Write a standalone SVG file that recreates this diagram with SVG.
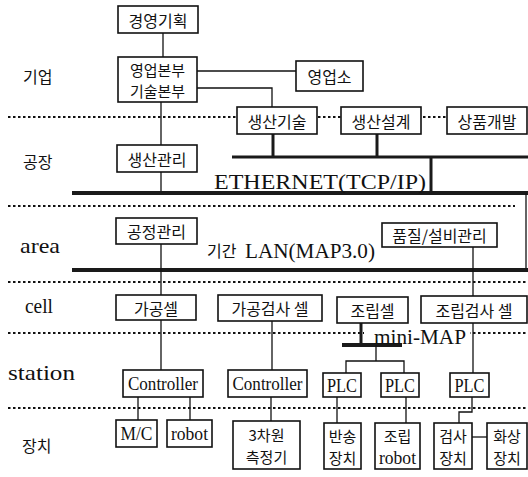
<svg xmlns="http://www.w3.org/2000/svg" width="528" height="477" viewBox="0 0 528 477">
<style>
.box{fill:#fff;stroke:#111;stroke-width:1.6}
.k{font-family:"Noto Sans CJK KR","Noto Sans CJK SC",sans-serif;font-size:16px;text-anchor:middle;dominant-baseline:central;fill:#111}
.k2{font-family:"Noto Sans CJK KR","Noto Sans CJK SC",sans-serif;font-size:15px;text-anchor:middle;dominant-baseline:central;fill:#111}
.kl{font-family:"Noto Sans CJK KR","Noto Sans CJK SC",sans-serif;font-size:16px;dominant-baseline:central;fill:#111}
.s{font-family:"Liberation Serif","DejaVu Serif",serif;fill:#111}
.sc{font-family:"Liberation Serif","DejaVu Serif",serif;font-size:19px;text-anchor:middle;dominant-baseline:central;fill:#111}
.ln{stroke:#111;stroke-width:1.3;fill:none}
.th{stroke:#1a1a1a;stroke-width:3;fill:none}
.bus{stroke:#1a1a1a;stroke-width:4;fill:none}
.dot{stroke:#111;stroke-width:1.8;stroke-dasharray:2.5 2.5;fill:none}
</style>
<g id="separators">
<line class="dot" x1="8" y1="117" x2="528" y2="117"/>
<line class="dot" x1="8" y1="206" x2="515" y2="206"/>
<line class="dot" x1="8" y1="282" x2="528" y2="282"/>
<line class="dot" x1="8" y1="333" x2="528" y2="333"/>
<line class="dot" x1="8" y1="408" x2="528" y2="408"/>
</g>
<g id="level-labels">
<text class="kl" x="23" y="76">기업</text>
<text class="kl" x="23" y="161">공장</text>
<text class="s" x="20" y="253" font-size="22" textLength="40" lengthAdjust="spacingAndGlyphs">area</text>
<text class="s" x="25" y="313" font-size="22" textLength="28" lengthAdjust="spacingAndGlyphs">cell</text>
<text class="s" x="8" y="380" font-size="22" textLength="67" lengthAdjust="spacingAndGlyphs">station</text>
<text class="kl" x="22" y="445">장치</text>
</g>
<g id="connectors">
<line class="ln" x1="163" y1="33" x2="163" y2="57"/>
<line class="ln" x1="197" y1="71" x2="296" y2="71"/>
<polyline class="ln" points="197,88 272,88 272,107"/>
<line class="ln" x1="161" y1="102" x2="161" y2="145"/>
<line class="ln" x1="161" y1="172" x2="161" y2="193"/>
<line class="th" x1="273" y1="134" x2="273" y2="157"/>
<line class="th" x1="377" y1="134" x2="377" y2="157"/>
<line class="th" x1="232" y1="157" x2="528" y2="157"/>
<line class="th" x1="431" y1="157" x2="431" y2="193"/>
<line class="bus" x1="72" y1="193" x2="528" y2="193"/>
<line class="ln" x1="526" y1="193" x2="526" y2="272" stroke-width="2"/>
<line class="bus" x1="72" y1="270" x2="528" y2="270"/>
<line class="ln" x1="161" y1="244" x2="161" y2="295"/>
<line class="ln" x1="473" y1="247" x2="473" y2="296"/>
<line class="ln" x1="161" y1="320" x2="161" y2="370"/>
<line class="ln" x1="272" y1="321" x2="272" y2="370"/>
<line class="th" x1="361" y1="323" x2="361" y2="345"/>
<line class="bus" x1="342" y1="345" x2="402" y2="345"/>
<line class="ln" x1="376" y1="345" x2="376" y2="361" stroke-width="2"/>
<polyline class="ln" points="346,373 346,361 404,361 404,373"/>
<line class="ln" x1="473" y1="323" x2="473" y2="373"/>
<line class="ln" x1="138" y1="397" x2="138" y2="420"/>
<line class="ln" x1="190" y1="397" x2="190" y2="420"/>
<line class="ln" x1="271" y1="397" x2="271" y2="421"/>
<line class="ln" x1="337" y1="397" x2="337" y2="423"/>
<line class="ln" x1="406" y1="397" x2="406" y2="423"/>
<polyline class="ln" points="472,397 472,412 459,412 459,423" stroke-width="2"/>
<line class="ln" x1="472" y1="437" x2="487" y2="437"/>
</g>
<g id="network-labels">
<text class="s" x="214" y="189" font-size="22" textLength="212" lengthAdjust="spacingAndGlyphs">ETHERNET(TCP/IP)</text>
<text class="kl" x="207" y="250">기간</text>
<text class="s" x="245" y="258" font-size="21" textLength="130" lengthAdjust="spacingAndGlyphs">LAN(MAP3.0)</text>
<rect x="364" y="325" width="106" height="17" fill="#fff"/>
<text class="s" x="374" y="344" font-size="21" textLength="92" lengthAdjust="spacingAndGlyphs">mini-MAP</text>
</g>
<g id="n-gyeongyeong"><rect class="box" x="118" y="6" width="80" height="27"/><text class="k" x="158" y="19.5">경영기획</text></g>
<g id="n-bonbu"><rect class="box" x="118" y="57" width="79" height="45"/><text class="k2" x="157.5" y="69">영업본부</text><text class="k2" x="157.5" y="90">기술본부</text></g>
<g id="n-yeongeopso"><rect class="box" x="296" y="61" width="67" height="30"/><text class="k" x="329.5" y="76">영업소</text></g>
<g id="n-saengsangisul"><rect class="box" x="237" y="107" width="80" height="27"/><text class="k" x="277" y="120.5">생산기술</text></g>
<g id="n-saengsanseolgye"><rect class="box" x="341" y="107" width="80" height="27"/><text class="k" x="381" y="120.5">생산설계</text></g>
<g id="n-sangpumgaebal"><rect class="box" x="447" y="107" width="80" height="27"/><text class="k" x="487" y="120.5">상품개발</text></g>
<g id="n-saengsangwalli"><rect class="box" x="117" y="145" width="80" height="27"/><text class="k" x="157" y="158.5">생산관리</text></g>
<g id="n-gongjeong"><rect class="box" x="116" y="218" width="81" height="26"/><text class="k" x="156.5" y="231">공정관리</text></g>
<g id="n-pumjil"><rect class="box" x="382" y="223" width="115" height="24"/><text class="k" x="439.5" y="235">품질/설비관리</text></g>
<g id="n-gagongsel"><rect class="box" x="116" y="295" width="80" height="25"/><text class="k" x="156" y="307.5">가공셀</text></g>
<g id="n-gagonggeomsa"><rect class="box" x="218" y="295" width="104" height="26"/><text class="k" x="270" y="308">가공검사 셀</text></g>
<g id="n-joripsel"><rect class="box" x="337" y="297" width="71" height="26"/><text class="k" x="372.5" y="310">조립셀</text></g>
<g id="n-joripgeomsa"><rect class="box" x="421" y="296" width="106" height="27"/><text class="k" x="474" y="309.5">조립검사 셀</text></g>
<g id="n-controller1"><rect class="box" x="123" y="370" width="80" height="27"/><text class="sc" x="163" y="383.5" textLength="70" lengthAdjust="spacingAndGlyphs">Controller</text></g>
<g id="n-controller2"><rect class="box" x="228" y="370" width="79" height="27"/><text class="sc" x="267.5" y="383.5" textLength="70" lengthAdjust="spacingAndGlyphs">Controller</text></g>
<g id="n-plc1"><rect class="box" x="323" y="373" width="38" height="24"/><text class="sc" x="342" y="385" textLength="30" lengthAdjust="spacingAndGlyphs">PLC</text></g>
<g id="n-plc2"><rect class="box" x="381" y="373" width="38" height="24"/><text class="sc" x="400" y="385" textLength="30" lengthAdjust="spacingAndGlyphs">PLC</text></g>
<g id="n-plc3"><rect class="box" x="450" y="373" width="39" height="24"/><text class="sc" x="469.5" y="385" textLength="30" lengthAdjust="spacingAndGlyphs">PLC</text></g>
<g id="n-mc"><rect class="box" x="116" y="420" width="41" height="27"/><text class="sc" x="136.5" y="433.5" textLength="32" lengthAdjust="spacingAndGlyphs">M/C</text></g>
<g id="n-robot"><rect class="box" x="167" y="420" width="45" height="27"/><text class="sc" x="189.5" y="433.5" textLength="37" lengthAdjust="spacingAndGlyphs">robot</text></g>
<g id="n-3d"><rect class="box" x="233" y="421" width="67" height="48"/><text class="k2" x="266.5" y="434">3차원</text><text class="k2" x="266.5" y="456">측정기</text></g>
<g id="n-bansong"><rect class="box" x="324" y="423" width="37" height="46"/><text class="k2" x="342.5" y="435">반송</text><text class="k2" x="342.5" y="457">장치</text></g>
<g id="n-joriprobot"><rect class="box" x="375" y="423" width="45" height="46"/><text class="k2" x="397.5" y="435">조립</text><text class="sc" x="397.5" y="457" textLength="37" lengthAdjust="spacingAndGlyphs">robot</text></g>
<g id="n-geomsa"><rect class="box" x="434" y="423" width="38" height="46"/><text class="k2" x="453" y="435">검사</text><text class="k2" x="453" y="457">장치</text></g>
<g id="n-hwasang"><rect class="box" x="487" y="423" width="40" height="46"/><text class="k2" x="507" y="435">화상</text><text class="k2" x="507" y="457">장치</text></g>
</svg>
